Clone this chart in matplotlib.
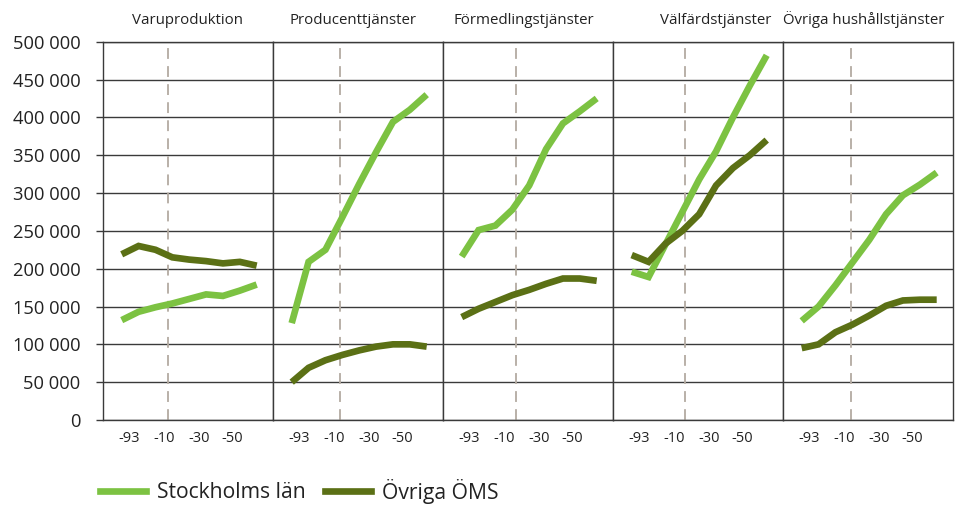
import numpy as np
import matplotlib
matplotlib.use('Agg')
import matplotlib.pyplot as plt
from matplotlib.ticker import FuncFormatter
from matplotlib.lines import Line2D

plt.rcParams['font.family'] = ['Open Sans', 'DejaVu Sans']

# data
titles = ['Varuproduktion', 'Producenttjänster', 'Förmedlingstjänster',
          'Välfärdstjänster', 'Övriga hushållstjänster']
tick_labels = ['-93', '-10', '-30', '-50']
series_names = ['Stockholms län', 'Övriga ÖMS']

varu_sthlm = [132000, 143000, 149000, 154000, 160000, 166000, 164000, 171000, 179000]
varu_ovriga = [219000, 230000, 225000, 215000, 212000, 210000, 207000, 209000, 204000]
prod_sthlm = [128000, 209000, 225000, 268000, 312000, 354000, 394000, 410000, 430000]
prod_ovriga = [50000, 69000, 79000, 86000, 92000, 97000, 100000, 100000, 97000]
form_sthlm = [216000, 251000, 257000, 278000, 310000, 358000, 392000, 408000, 425000]
form_ovriga = [136000, 147000, 156000, 165000, 172000, 180000, 187000, 187000, 184000]
valf_sthlm = [196000, 189000, 232000, 275000, 318000, 355000, 400000, 442000, 482000]
valf_ovriga = [218000, 209000, 233000, 250000, 272000, 310000, 333000, 350000, 370000]
ovr_sthlm = [131000, 150000, 178000, 208000, 238000, 272000, 297000, 311000, 327000]
ovr_ovriga = [95000, 100000, 116000, 126000, 138000, 151000, 158000, 159000, 159000]

sthlm = [varu_sthlm, prod_sthlm, form_sthlm, valf_sthlm, ovr_sthlm]
ovriga = [varu_ovriga, prod_ovriga, form_ovriga, valf_ovriga, ovr_ovriga]

# styling
light = '#7cc242'
dark = '#5b7015'
grid_col = '#3a3a3a'
dash_col = '#b3aaa1'

W, H = 958, 505
left_px, panel_w = 102.7, 170
top_px, bottom_px = 41.7, 420
step = 16.875
start = 19.0

tick_pos = [0.43, 2.5, 4.58, 6.57]
dash_pos = [2.76, 2.86, 3.2, 3.16, 2.9]
title_x = [187, 353, 524, 716, 864]

fig = plt.figure(figsize=(W / 100, H / 100), dpi=100)

def fmt(v, pos):
    return '{:,.0f}'.format(v).replace(',', ' ')

for i in range(5):
    ax = fig.add_axes([(left_px + i * panel_w) / W, 1 - bottom_px / H,
                       panel_w / W, (bottom_px - top_px) / H])
    x = np.arange(len(sthlm[i]))
    ax.plot(x, sthlm[i], color=light, lw=4.8, solid_joinstyle='miter',
            solid_capstyle='butt', zorder=3)
    ax.plot(x, ovriga[i], color=dark, lw=4.8, solid_joinstyle='miter',
            solid_capstyle='butt', zorder=3)
    ax.axvline(dash_pos[i], color=dash_col, lw=1.3, dashes=(6, 4), zorder=2)

    ax.set_xlim(-start / step, (panel_w - start) / step)
    ax.set_ylim(0, 500000)
    ax.set_yticks(np.arange(0, 500001, 50000))
    ax.grid(axis='y', color=grid_col, lw=1.0)
    ax.set_axisbelow(True)
    for s in ax.spines.values():
        s.set_color(grid_col)
        s.set_linewidth(1.0)

    ax.set_xticks(tick_pos)
    ax.set_xticklabels(tick_labels)
    ax.tick_params(axis='x', length=0, pad=8, labelsize=10.5, colors='#222222')
    if i == 0:
        ax.yaxis.set_major_formatter(FuncFormatter(fmt))
        ax.tick_params(axis='y', length=5, width=1.0, color=grid_col, pad=11,
                       labelsize=13.2, labelcolor='#222222')
    else:
        ax.tick_params(axis='y', length=0, labelleft=False)

    fig.text(title_x[i] / W, 1 - 20 / H, titles[i], ha='center', va='center',
             fontsize=10.8, color='#222222')

handles = [Line2D([], [], color=light, lw=4.8), Line2D([], [], color=dark, lw=4.8)]
fig.legend(handles, series_names, loc='center left', ncol=2, frameon=False,
           bbox_to_anchor=(100 / W, 1 - 491 / H), borderpad=0, borderaxespad=0,
           handlelength=2.2, handletextpad=0.5, columnspacing=0.9, fontsize=15.2,
           labelcolor='#222222')

fig.savefig('out.png', dpi=100)
